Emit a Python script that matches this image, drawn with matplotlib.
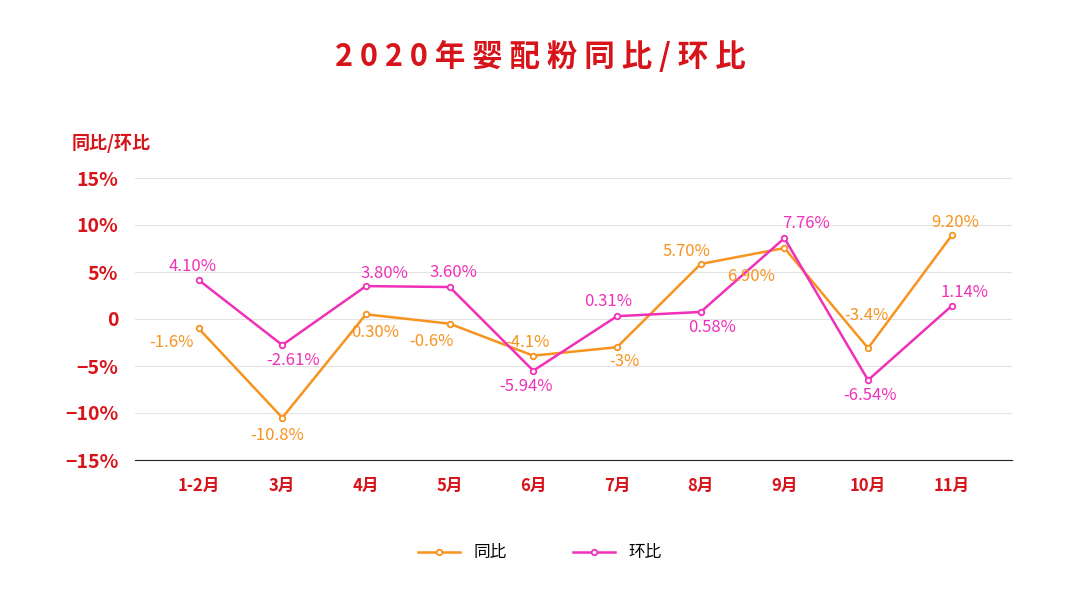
import matplotlib
matplotlib.use("Agg")
import matplotlib.pyplot as plt
from matplotlib import font_manager as fm

cjk = [f.name for f in fm.fontManager.ttflist if "CJK" in f.name]
pref = [n for n in ["Noto Sans CJK SC", "Noto Sans CJK JP", "Noto Sans CJK TC", "Noto Sans CJK KR"] if n in cjk]
plt.rcParams["font.family"] = (pref or cjk[:1]) + ["DejaVu Sans"]

months = ["1-2月", "3月", "4月", "5月", "6月", "7月", "8月", "9月", "10月", "11月"]
yoy = [-1.0, -10.5, 0.5, -0.5, -3.9, -3.0, 5.85, 7.55, -3.1, 8.9]
mom = [4.15, -2.77, 3.5, 3.4, -5.5, 0.3, 0.75, 8.6, -6.5, 1.4]
yoy_labels = ["-1.6%", "-10.8%", "0.30%", "-0.6%", "-4.1%", "-3%", "5.70%", "6.90%", "-3.4%", "9.20%"]
mom_labels = ["4.10%", "-2.61%", "3.80%", "3.60%", "-5.94%", "0.31%", "0.58%", "7.76%", "-6.54%", "1.14%"]
yticks = [-15, -10, -5, 0, 5, 10, 15]
ytick_labels = ["−15%", "−10%", "−5%", "0", "5%", "10%", "15%"]

orange = "#F7931E"
pink = "#F030B8"
red = "#D7141A"

fig = plt.figure(figsize=(10.8, 6.08), dpi=100)
ax = fig.add_axes([135/1080, 1-460/608, (1012-135)/1080, (460-178)/608])
x = list(range(len(months)))
ax.plot(x, yoy, color=orange, lw=1.8, marker="o", ms=4, mfc="white", mec=orange, mew=1.3, label="同比")
ax.plot(x, mom, color=pink, lw=1.8, marker="o", ms=4, mfc="white", mec=pink, mew=1.3, label="环比")

yoy_off = [(-27, -14), (-5, -18), (9, -18), (-18, -18), (-6, 13), (7, -14), (-14, 13), (-33, -28), (-2, 33), (3, 13)]
mom_off = [(-6, 13), (11, -15), (18, 13), (4, 15), (-7, -16), (-9, 15), (11, -16), (22, 15), (2, -15), (13, 13)]
for i in x:
    ax.annotate(yoy_labels[i], (i, yoy[i]), xytext=yoy_off[i], textcoords="offset pixels",
                ha="center", va="center", color=orange, fontsize=12)
    ax.annotate(mom_labels[i], (i, mom[i]), xytext=mom_off[i], textcoords="offset pixels",
                ha="center", va="center", color=pink, fontsize=12)

ax.set_xlim(-0.76, 9.72)
ax.set_ylim(-15, 15)
ax.set_yticks(yticks)
ax.set_yticklabels(ytick_labels, color=red, fontsize=14, fontweight="bold")
ax.set_xticks(x)
ax.set_xticklabels(months, color=red, fontsize=12, fontweight="bold")
ax.tick_params(length=0, pad=12)
ax.grid(axis="y", color="#E3E3E3", lw=0.8)
for s in ["top", "right", "left"]:
    ax.spines[s].set_visible(False)
ax.spines["bottom"].set_color("#222222")
ax.set_axisbelow(True)

fig.text(0.5, 1-57/608, "2 0 2 0 年 婴 配 粉 同 比 / 环 比", ha="center", va="center",
         color=red, fontsize=22, fontweight="bold")
fig.text(72/1080, 1-143/608, "同比/环比", ha="left", va="center", color=red, fontsize=13, fontweight="bold")
fig.legend(loc="center", bbox_to_anchor=(0.5, 1-553/608), ncol=2, frameon=False,
           fontsize=12, handlelength=2.5, columnspacing=4)

fig.savefig("out.png", dpi=100)
